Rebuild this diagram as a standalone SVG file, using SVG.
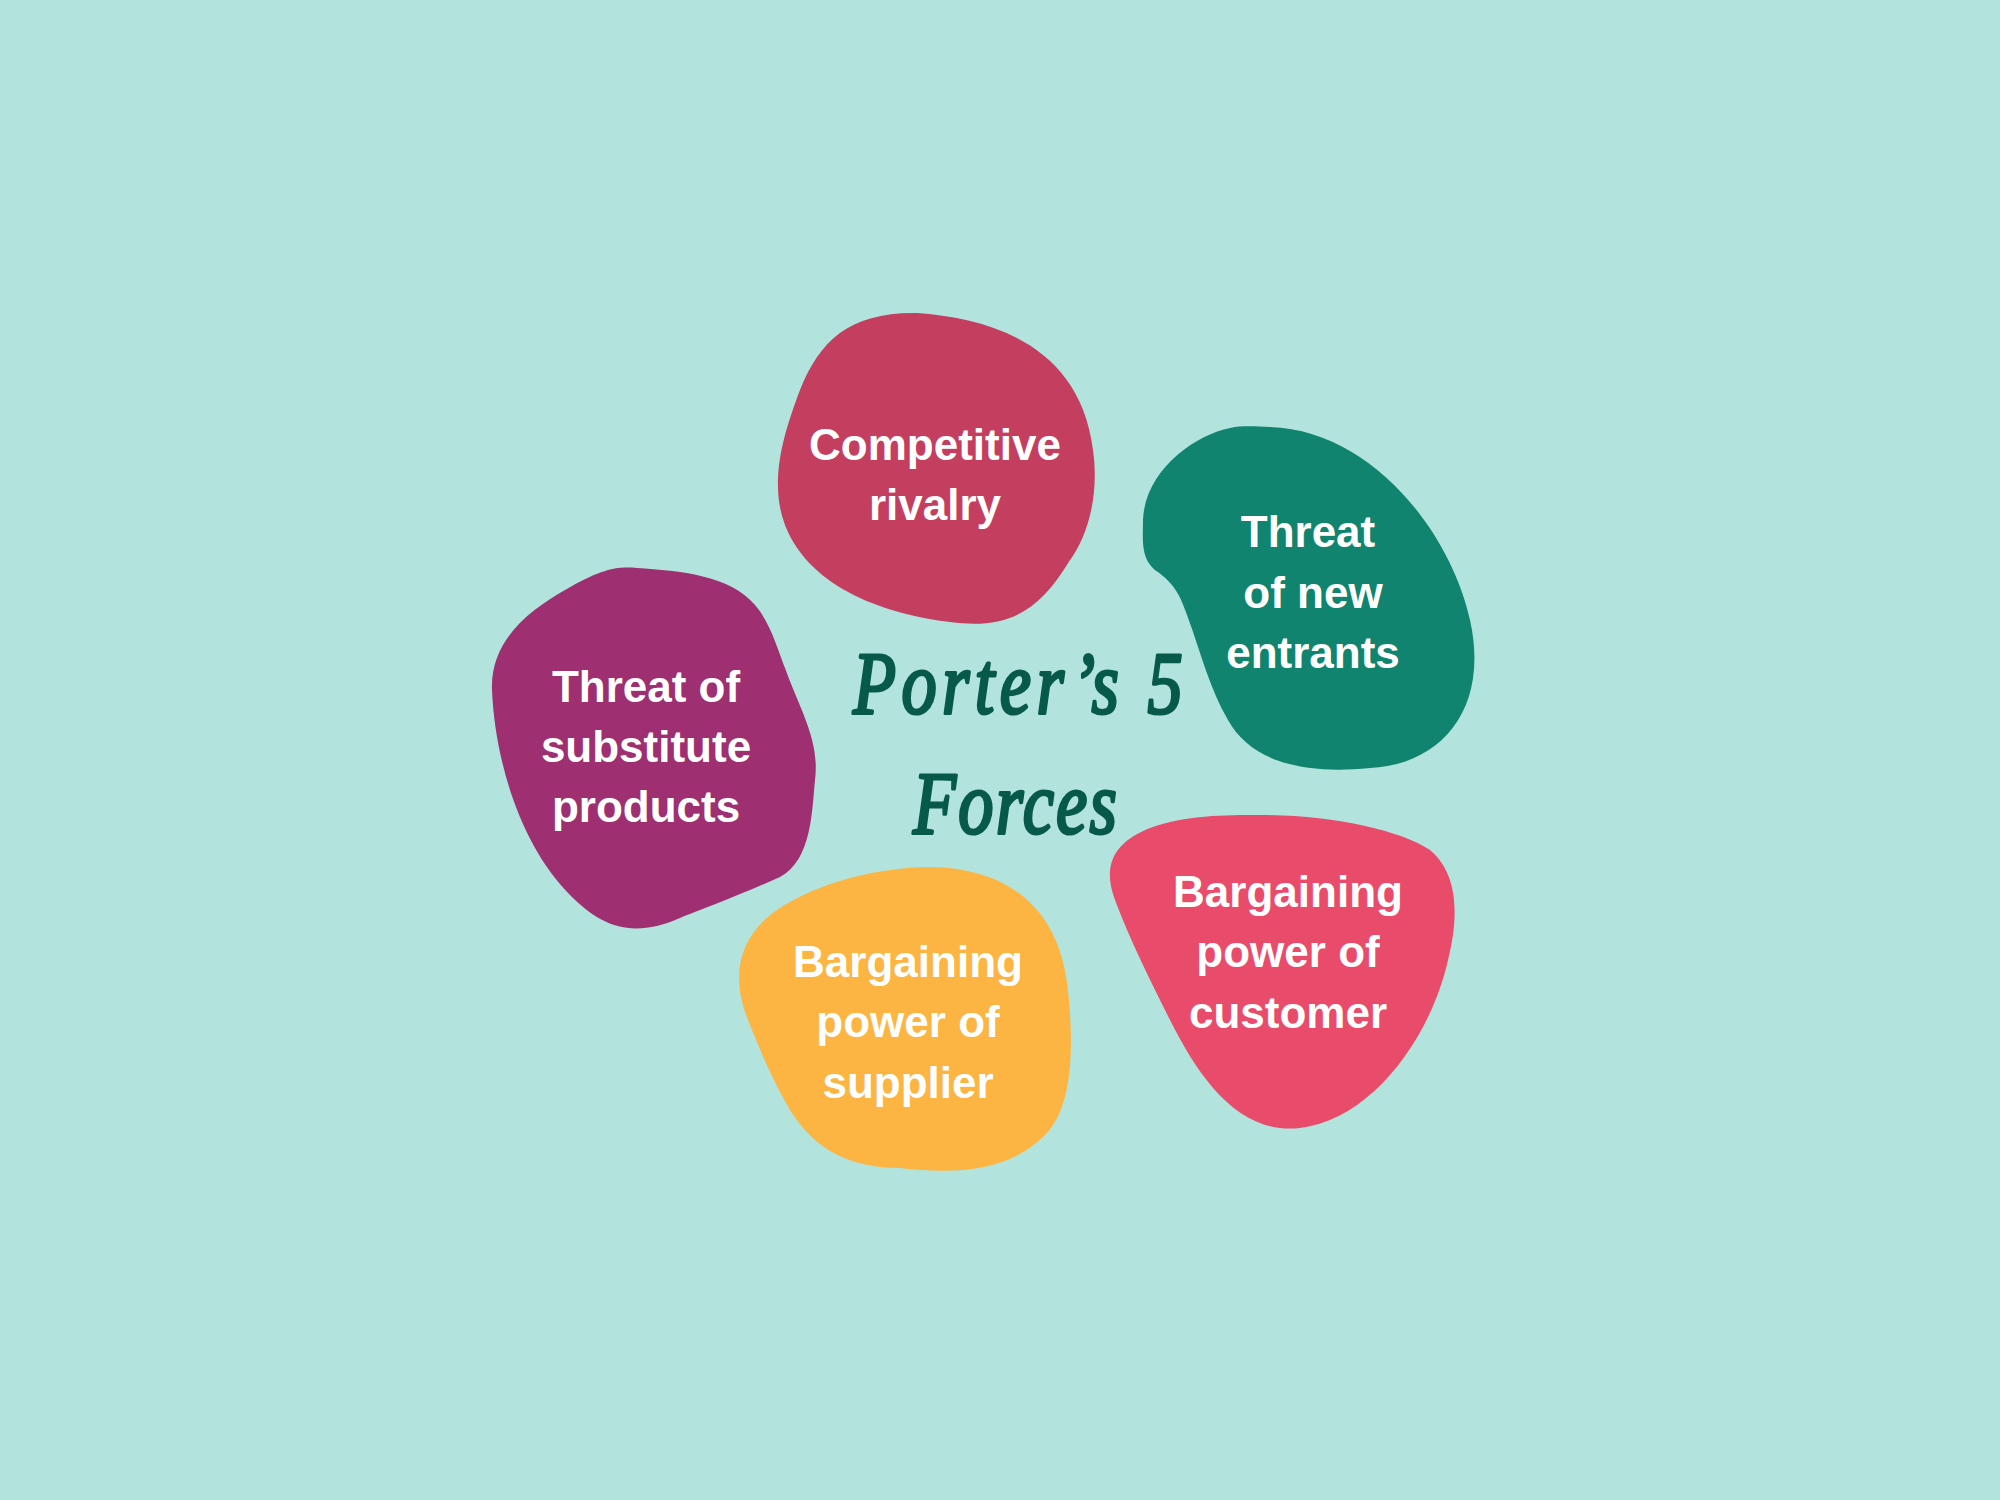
<svg xmlns="http://www.w3.org/2000/svg" width="2000" height="1500" viewBox="0 0 2000 1500">
<style>
.lbl{font-family:"Liberation Sans",Arial,sans-serif;font-weight:bold;font-size:44px;fill:#ffffff;text-anchor:middle}
.title{font-family:"Liberation Serif","Times New Roman",serif;font-style:italic;font-weight:normal;font-size:88px;fill:#07594A;stroke:#07594A;stroke-width:3.2;stroke-linejoin:round}
</style>
<rect width="2000" height="1500" fill="#B3E3DD"/>
<g id="title">
<text class="title" x="0" y="0" transform="translate(853,713) scale(0.8,1)" textLength="412" lengthAdjust="spacing">Porter’s 5</text>
<text class="title" x="0" y="0" transform="translate(913,833) scale(0.8,1)" textLength="255" lengthAdjust="spacing">Forces</text>
</g>
<g id="node-competitive-rivalry">
<path fill="#C33E5F" d="M 917 313 C 990 318, 1080 345, 1093 450 C 1100 500, 1085 540, 1070 560 C 1040 610, 1010 630, 950 622 C 890 615, 810 590, 785 525 C 768 480, 785 430, 800 390 C 820 340, 850 312, 917 313 Z"/>
<text class="lbl" x="935" y="460">Competitive</text>
<text class="lbl" x="935" y="520">rivalry</text>
</g>
<g id="node-new-entrants">
<path fill="#11846F" d="M 1270 427 C 1370 430, 1450 530, 1470 620 C 1490 710, 1440 765, 1370 768 C 1300 775, 1250 760, 1228 720 C 1210 690, 1200 650, 1187 615 C 1180 595, 1175 585, 1158 572 C 1140 560, 1143 540, 1143 520 C 1145 470, 1195 435, 1230 428 C 1245 425, 1258 427, 1270 427 Z"/>
<text class="lbl" x="1308" y="547">Threat</text>
<text class="lbl" x="1313" y="608">of new</text>
<text class="lbl" x="1313" y="668">entrants</text>
</g>
<g id="node-substitutes">
<path fill="#9E2F70" d="M 637 568 C 680 571, 730 575, 755 605 C 770 622, 778 650, 785 668 C 800 710, 820 740, 815 780 C 812 810, 812 860, 780 877 C 740 895, 700 910, 680 918 C 630 940, 600 925, 570 895 C 520 845, 495 760, 492 690 C 490 640, 530 610, 565 590 C 600 570, 615 566, 637 568 Z"/>
<text class="lbl" x="646" y="702">Threat of</text>
<text class="lbl" x="646" y="762">substitute</text>
<text class="lbl" x="646" y="822">products</text>
</g>
<g id="node-supplier">
<path fill="#FCB542" d="M 930 867 C 1010 868, 1060 910, 1068 990 C 1075 1060, 1070 1110, 1045 1135 C 1010 1170, 960 1175, 900 1168 C 850 1168, 815 1150, 790 1110 C 770 1075, 760 1050, 748 1020 C 730 975, 740 940, 770 915 C 810 885, 870 868, 930 867 Z"/>
<text class="lbl" x="908" y="977">Bargaining</text>
<text class="lbl" x="908" y="1037">power of</text>
<text class="lbl" x="908" y="1098">supplier</text>
</g>
<g id="node-customer">
<path fill="#E94B6B" d="M 1260 815 C 1330 815, 1400 830, 1430 850 C 1460 875, 1458 920, 1448 960 C 1430 1040, 1370 1120, 1300 1128 C 1240 1135, 1200 1080, 1170 1020 C 1150 980, 1130 940, 1115 900 C 1100 860, 1120 840, 1150 828 C 1185 815, 1225 815, 1260 815 Z"/>
<text class="lbl" x="1288" y="907">Bargaining</text>
<text class="lbl" x="1288" y="967">power of</text>
<text class="lbl" x="1288" y="1028">customer</text>
</g>
<g id="connectors"></g>
</svg>
